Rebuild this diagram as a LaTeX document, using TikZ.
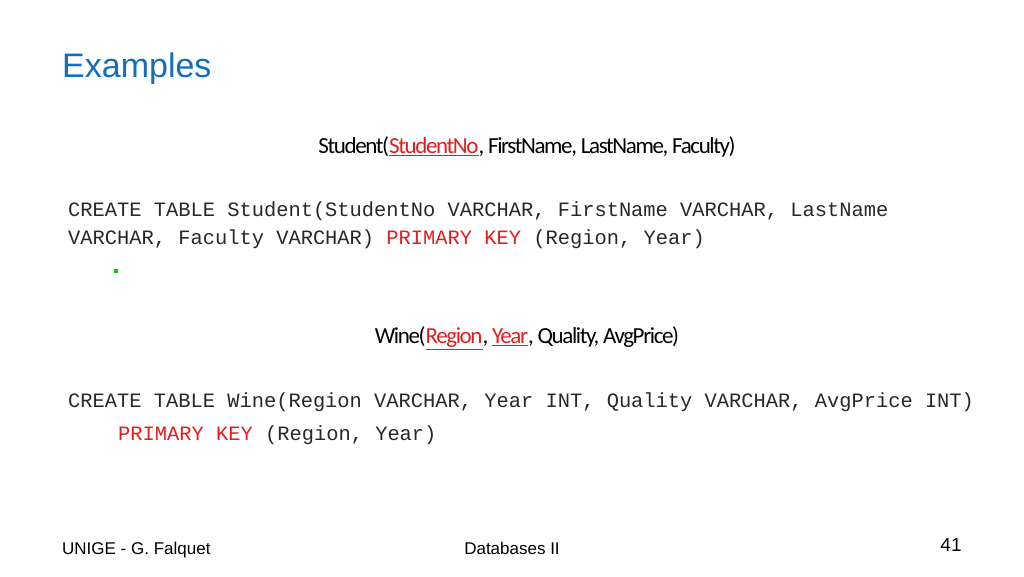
\documentclass[tikz,border=0pt]{standalone}
\usepackage{fontspec}
\usepackage{graphicx}
\setmainfont{Liberation Sans}
\newfontfamily\carfont[LetterSpace=-6]{Carlito}
\newfontfamily\monofnt{Liberation Mono}
\definecolor{ttl}{RGB}{20,110,190}
\definecolor{kred}{RGB}{225,30,30}
\definecolor{txt}{RGB}{40,40,40}
\tikzset{mono/.style={anchor=west,inner sep=0,font=\monofnt\fontsize{20.4}{24}\selectfont,text=txt},
 cal/.style={inner sep=0,font=\carfont\fontsize{23}{26}\selectfont,text=black}}
\begin{document}
\begin{tikzpicture}[x=1pt,y=-1pt]
\useasboundingbox (0,0) rectangle (1024,576);
\node[anchor=west,inner sep=0,text=ttl,font=\fontsize{34}{38}\selectfont] (t) at (62,69) {Examples};
\node[cal] (s) at (527,147) {Student(\textcolor{kred}{\underline{StudentNo}}, FirstName, LastName, Faculty)};
\node[mono] (l1) at (68,211) {CREATE TABLE Student(StudentNo VARCHAR, FirstName VARCHAR, LastName};
\node[mono] (l2) at (68,239) {VARCHAR, Faculty VARCHAR) \textcolor{kred}{PRIMARY KEY} (Region, Year)};
\node[fill=green!80!black,minimum size=4pt,inner sep=0] (g) at (116,271) {};
\node[cal] (w) at (527,338) {Wine(\textcolor{kred}{\underline{Region}}, \textcolor{kred}{\underline{Year}}, Quality, AvgPrice)};
\node[mono] (l3) at (68,402) {CREATE TABLE Wine(Region VARCHAR, Year INT, Quality VARCHAR, AvgPrice INT)};
\node[mono] (l4) at (118,435) {\textcolor{kred}{PRIMARY KEY} (Region, Year)};
\node[anchor=west,inner sep=0,font=\fontsize{17}{20}\selectfont] (f1) at (62,550) {UNIGE - G. Falquet};
\node[inner sep=0,font=\fontsize{17}{20}\selectfont] (f2) at (512,548) {Databases II};
\node[inner sep=0,font=\fontsize{19}{22}\selectfont] (f3) at (951,545) {41};
\end{tikzpicture}
\end{document}
